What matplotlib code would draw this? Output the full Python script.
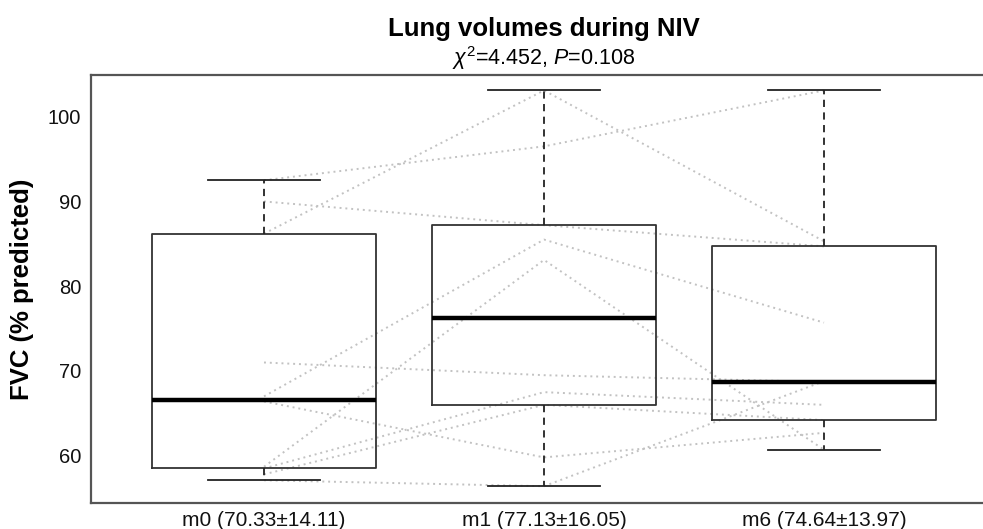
import numpy as np
import matplotlib
matplotlib.use('Agg')
import matplotlib.pyplot as plt

plt.rcParams['font.family'] = ['Liberation Sans', 'DejaVu Sans']
plt.rcParams['mathtext.fontset'] = 'custom'
plt.rcParams['mathtext.rm'] = 'Liberation Sans'
plt.rcParams['mathtext.it'] = 'Liberation Sans:italic'

# visits and their labels
visits = ['m0', 'm1', 'm6']
tick_labels = ['m0 (70.33±14.11)', 'm1 (77.13±16.05)', 'm6 (74.64±13.97)']

# box summary (FVC % predicted)
box_lo = [57.1, 56.4, 60.7]
box_q1 = [58.6, 66.0, 64.2]
box_med = [66.6, 76.2, 68.7]
box_q3 = [86.2, 87.2, 84.7]
box_hi = [92.5, 103.1, 103.1]

# individual patients, one value per visit (m0, m1, m6)
pt_a = [86.2, 103.1, 85.3]
pt_b = [92.5, 96.5, 103.1]
pt_c = [90.0, 87.2, 84.7]
pt_d = [67.0, 85.5, 75.7]
pt_e = [58.7, 83.1, 60.7]
pt_f = [71.0, 69.5, 68.7]
pt_g = [57.8, 66.0, 64.2]
pt_h = [57.1, 56.4, 68.8]
pt_i = [66.4, 59.8, 62.7]
pt_j = [58.5, 67.5, 66.0]
patients = [pt_a, pt_b, pt_c, pt_d, pt_e, pt_f, pt_g, pt_h, pt_i, pt_j]

fig = plt.figure(figsize=(9.83, 5.29), dpi=100)
ax = fig.add_axes([91 / 983, 26 / 529, 1 - 91 / 983, 428 / 529])

pos = np.arange(len(visits))

# spaghetti lines first so the boxes sit on top
for p in patients:
    ax.plot(pos, p, color='#c2c2c2', lw=1.4, ls=(0, (1, 2)), zorder=1)

stats = []
for i, v in enumerate(visits):
    stats.append({'label': v, 'whislo': box_lo[i], 'q1': box_q1[i], 'med': box_med[i],
                  'q3': box_q3[i], 'whishi': box_hi[i], 'fliers': []})

ax.bxp(stats, positions=pos, widths=0.8, capwidths=0.4, showfliers=False,
       patch_artist=False,
       boxprops=dict(color='#333333', lw=1.3),
       medianprops=dict(color='black', lw=3.2),
       whiskerprops=dict(color='#222222', lw=1.3, ls=(0, (4, 3))),
       capprops=dict(color='#222222', lw=1.3),
       zorder=2)

ax.set_xlim(-173 / 280, 2 + 159 / 280)
ax.set_ylim(54.42, 104.92)
ax.set_yticks([60, 70, 80, 90, 100])
ax.set_xticks(pos)
ax.set_xticklabels(tick_labels)
ax.tick_params(axis='x', length=0, pad=6, labelsize=15, colors='#111111')
ax.tick_params(axis='y', length=0, pad=7, labelsize=14.5, colors='#111111')

for s in ['left', 'top', 'bottom']:
    ax.spines[s].set_color('#555555')
    ax.spines[s].set_linewidth(1.6)
ax.spines['right'].set_visible(False)

ax.set_ylabel('FVC (% predicted)', fontsize=18.5, fontweight='bold')
ax.yaxis.set_label_coords(-0.064, 0.5)

fig.text(544 / 983, 1 - 29 / 529, 'Lung volumes during NIV', ha='center', va='center',
         fontsize=18.5, fontweight='bold')
fig.text(544 / 983, 1 - 58 / 529, r'$\chi^2$=4.452, $P$=0.108', ha='center', va='center',
         fontsize=15.5)

fig.savefig('out.png', dpi=100)
